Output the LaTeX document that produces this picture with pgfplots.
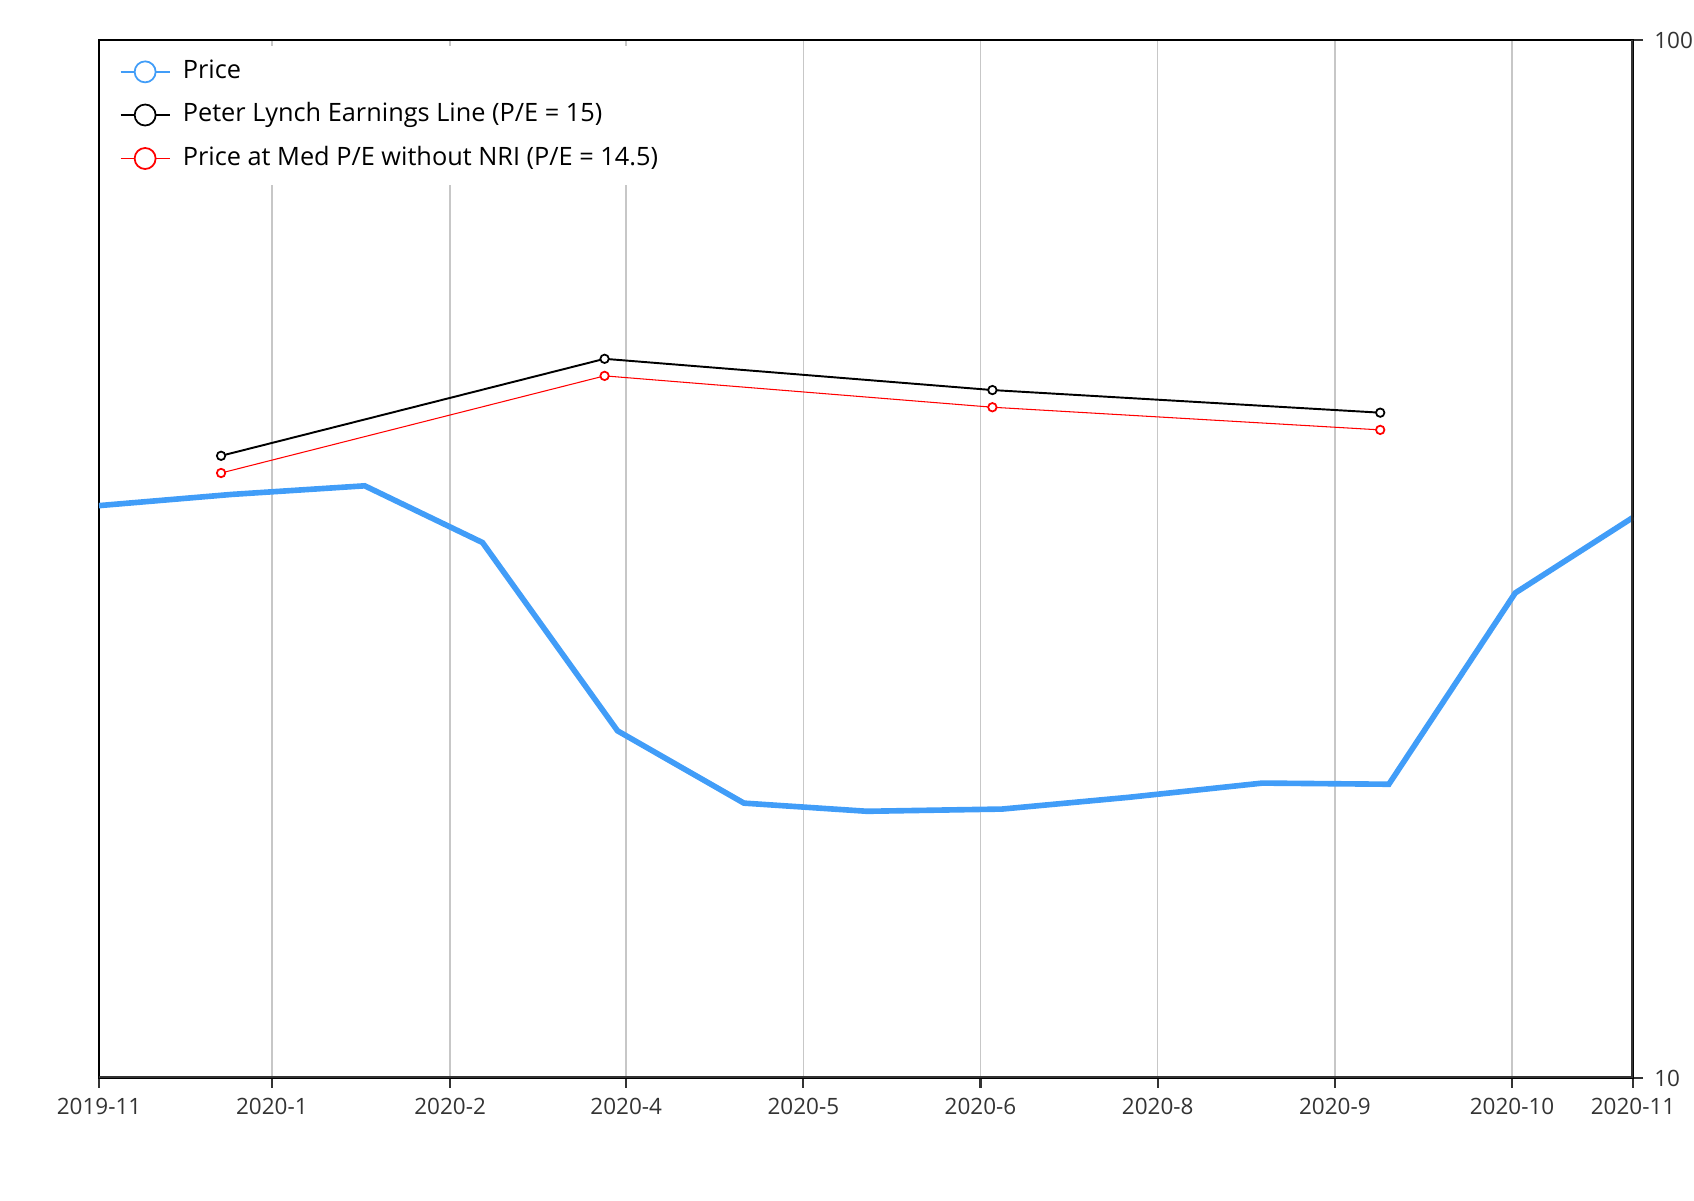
\documentclass[border=0pt]{standalone}
\usepackage{pgfplots}
\pgfplotsset{compat=1.18}
\usepackage{fontspec}
\setmainfont{Open Sans}
\definecolor{priceblue}{HTML}{419DF8}
\definecolor{axisdark}{HTML}{333333}
\begin{document}
\begin{tikzpicture}
\path[use as bounding box] (-0.99cm,-1.22cm) rectangle (15.95cm,10.78cm);
\begin{axis}[
  at={(0,0)}, anchor=south west,
  scale only axis, width=15.34cm, height=10.38cm,
  xmin=0, xmax=1420,
  ymode=log, ymin=10, ymax=100,
  xtick={0,160,325,488,652,816,980,1144,1308,1420},
  xticklabels={2019-11,2020-1,2020-2,2020-4,2020-5,2020-6,2020-8,2020-9,2020-10,2020-11},
  ytick={10,100}, yticklabels={10,100},
  yticklabel pos=right,
  xtick pos=bottom, ytick pos=right,
  tick align=outside,
  major tick length=0.1cm,
  minor tick num=0, yminorticks=false,
  tick style={axisdark, line width=0.6pt},
  xmajorgrids, ymajorgrids=false,
  grid style={color=black!22, line width=0.45pt},
  axis line style={black, line width=0.5pt},
  ticklabel style={font=\fontsize{6.4}{7.5}\selectfont, text=axisdark},
  xticklabel style={yshift=0.5pt},
  yticklabel style={xshift=-0.3pt},
  /pgf/number format/assume math mode=true,
  legend style={at={(0.0085,0.995)}, anchor=north west, draw=none, fill=white,
    font=\fontsize{7.2}{8.6}\selectfont, row sep=1.4pt, inner xsep=2pt, inner ysep=2pt,
    nodes={inner xsep=3.5pt}},
  legend cell align=left,
  legend image code/.code={
    \draw[#1, line width=0.5pt] (0cm,0cm) -- (0.49cm,0cm);
    \draw[#1, line width=0.5pt, fill=white] (0.245cm,0cm) circle (0.105cm);
  },
]
\addplot[priceblue, line width=1.6pt, no marks] coordinates {
  (0,35.6) (123,36.5) (246,37.2) (355,32.8) (480,21.6) (597,18.4) (711,18.07)
  (836,18.16) (953,18.64) (1077,19.24) (1194,19.19) (1311,29.33) (1420,34.68)
};
\addlegendentry{Price}
\addplot[black, line width=0.55pt, mark=*, mark size=1.2pt, mark options={fill=white, line width=0.5pt}] coordinates {
  (113,39.76) (468,49.3) (827,46.0) (1186,43.75)
};
\addlegendentry{Peter Lynch Earnings Line (P/E = 15)}
\addplot[red, line width=0.3pt, mark=*, mark size=1.2pt, mark options={fill=white, line width=0.5pt}] coordinates {
  (113,38.27) (468,47.47) (827,44.28) (1186,42.11)
};
\addlegendentry{Price at Med P/E without NRI (P/E = 14.5)}
\draw[axisdark, line width=0.9pt] (rel axis cs:0,0) -- (rel axis cs:1,0);
\draw[axisdark, line width=0.9pt] (rel axis cs:1,0) -- (rel axis cs:1,1);
\end{axis}
\end{tikzpicture}
\end{document}
